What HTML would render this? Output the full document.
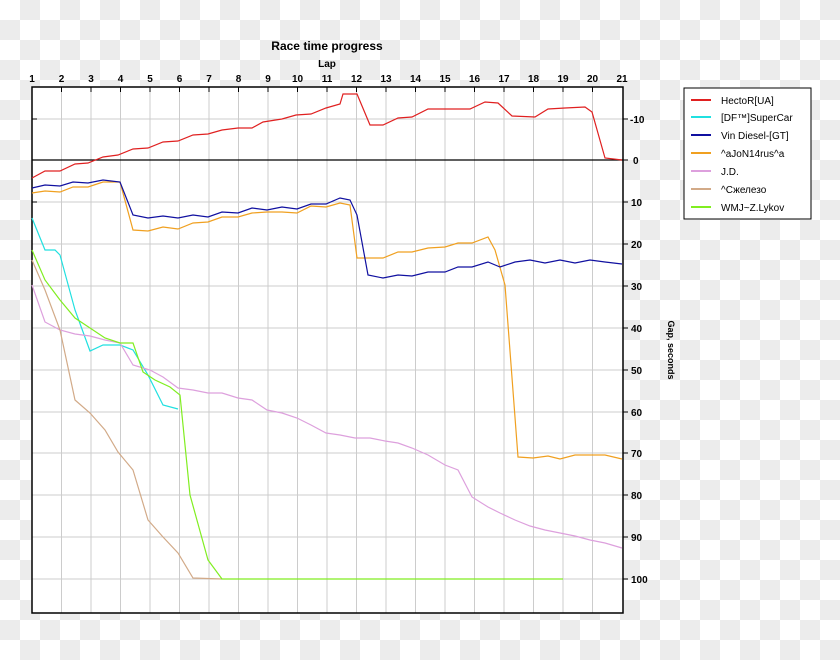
<!DOCTYPE html>
<html><head><meta charset="utf-8"><style>
html,body{margin:0;padding:0}
body{width:840px;height:660px;overflow:hidden;background-color:#fff;
background-image:conic-gradient(#ececec 0 25%,#fff 0 50%,#ececec 0 75%,#fff 0);background-size:40px 40px;}
text{font-family:"Liberation Sans",sans-serif}
</style></head><body>
<svg width="840" height="660" xmlns="http://www.w3.org/2000/svg" style="position:absolute;left:0;top:0">
<rect x="32" y="87" width="591" height="526" fill="#fff"/>
<g stroke="#cccccc" stroke-width="1">
<line x1="61.5" y1="87" x2="61.5" y2="613"/><line x1="91" y1="87" x2="91" y2="613"/><line x1="120.5" y1="87" x2="120.5" y2="613"/><line x1="150" y1="87" x2="150" y2="613"/><line x1="179.5" y1="87" x2="179.5" y2="613"/><line x1="209" y1="87" x2="209" y2="613"/><line x1="238.5" y1="87" x2="238.5" y2="613"/><line x1="268" y1="87" x2="268" y2="613"/><line x1="297.5" y1="87" x2="297.5" y2="613"/><line x1="327" y1="87" x2="327" y2="613"/><line x1="356.5" y1="87" x2="356.5" y2="613"/><line x1="386" y1="87" x2="386" y2="613"/><line x1="415.5" y1="87" x2="415.5" y2="613"/><line x1="445" y1="87" x2="445" y2="613"/><line x1="474.5" y1="87" x2="474.5" y2="613"/><line x1="504" y1="87" x2="504" y2="613"/><line x1="533.5" y1="87" x2="533.5" y2="613"/><line x1="563" y1="87" x2="563" y2="613"/><line x1="592.5" y1="87" x2="592.5" y2="613"/>
<line x1="32" y1="119" x2="623" y2="119"/><line x1="32" y1="202" x2="623" y2="202"/><line x1="32" y1="244" x2="623" y2="244"/><line x1="32" y1="286" x2="623" y2="286"/><line x1="32" y1="328" x2="623" y2="328"/><line x1="32" y1="370" x2="623" y2="370"/><line x1="32" y1="412" x2="623" y2="412"/><line x1="32" y1="453" x2="623" y2="453"/><line x1="32" y1="495" x2="623" y2="495"/><line x1="32" y1="537" x2="623" y2="537"/><line x1="32" y1="579" x2="623" y2="579"/>
</g>
<line x1="32" y1="160" x2="623" y2="160" stroke="#000" stroke-width="1.2"/>
<rect x="32" y="87" width="591" height="526" fill="none" stroke="#000" stroke-width="1.5"/>
<g stroke="#000" stroke-width="1">
<line x1="61.5" y1="87" x2="61.5" y2="92"/><line x1="91" y1="87" x2="91" y2="92"/><line x1="120.5" y1="87" x2="120.5" y2="92"/><line x1="150" y1="87" x2="150" y2="92"/><line x1="179.5" y1="87" x2="179.5" y2="92"/><line x1="209" y1="87" x2="209" y2="92"/><line x1="238.5" y1="87" x2="238.5" y2="92"/><line x1="268" y1="87" x2="268" y2="92"/><line x1="297.5" y1="87" x2="297.5" y2="92"/><line x1="327" y1="87" x2="327" y2="92"/><line x1="356.5" y1="87" x2="356.5" y2="92"/><line x1="386" y1="87" x2="386" y2="92"/><line x1="415.5" y1="87" x2="415.5" y2="92"/><line x1="445" y1="87" x2="445" y2="92"/><line x1="474.5" y1="87" x2="474.5" y2="92"/><line x1="504" y1="87" x2="504" y2="92"/><line x1="533.5" y1="87" x2="533.5" y2="92"/><line x1="563" y1="87" x2="563" y2="92"/><line x1="592.5" y1="87" x2="592.5" y2="92"/>
<line x1="623" y1="119" x2="628" y2="119"/><line x1="623" y1="160" x2="628" y2="160"/><line x1="623" y1="202" x2="628" y2="202"/><line x1="623" y1="244" x2="628" y2="244"/><line x1="623" y1="286" x2="628" y2="286"/><line x1="623" y1="328" x2="628" y2="328"/><line x1="623" y1="370" x2="628" y2="370"/><line x1="623" y1="412" x2="628" y2="412"/><line x1="623" y1="453" x2="628" y2="453"/><line x1="623" y1="495" x2="628" y2="495"/><line x1="623" y1="537" x2="628" y2="537"/><line x1="623" y1="579" x2="628" y2="579"/>
<line x1="32" y1="119" x2="37" y2="119"/><line x1="32" y1="202" x2="37" y2="202"/>
</g>
<g font-size="10" font-weight="bold" text-anchor="middle" fill="#000">
<text x="32" y="82">1</text><text x="61.5" y="82">2</text><text x="91" y="82">3</text><text x="120.5" y="82">4</text><text x="150" y="82">5</text><text x="179.5" y="82">6</text><text x="209" y="82">7</text><text x="238.5" y="82">8</text><text x="268" y="82">9</text><text x="297.5" y="82">10</text><text x="327" y="82">11</text><text x="356.5" y="82">12</text><text x="386" y="82">13</text><text x="415.5" y="82">14</text><text x="445" y="82">15</text><text x="474.5" y="82">16</text><text x="504" y="82">17</text><text x="533.5" y="82">18</text><text x="563" y="82">19</text><text x="592.5" y="82">20</text><text x="622" y="82">21</text>
<text x="327" y="67">Lap</text>
<text x="327" y="50" font-size="12">Race time progress</text>
</g>
<g font-size="10" font-weight="bold" fill="#000">
<text x="630" y="123">-10</text><text x="633" y="164">0</text><text x="631" y="206">10</text><text x="631" y="248">20</text><text x="631" y="290">30</text><text x="631" y="332">40</text><text x="631" y="374">50</text><text x="631" y="416">60</text><text x="631" y="457">70</text><text x="631" y="499">80</text><text x="631" y="541">90</text><text x="631" y="583">100</text>
<text transform="translate(668,350) rotate(90)" text-anchor="middle" font-size="9">Gap, seconds</text>
</g>
<g fill="none" stroke-width="1.2">
<polyline stroke="#e02020" points="32,178 45,171 60,171 75,164 88,163 103,157 118,155 133,149 148,148 163,142 178,141 193,135 208,134 222,130 238,128 252,128 263,122 282,119 296,115 311,114 326,108 340,104 343,94 357,94 370,125 383,125 398,118 412,117 428,109 470,109 485,102 498,103 512,116 535,117 548,109 565,108 585,107 592,112 605,158 622,160"/>
<polyline stroke="#20e0e0" points="32,218 45,250 55,250 60,255 75,310 90,351 103,345 120,345 133,350 148,375 163,405 178,409"/>
<polyline stroke="#dda0dd" points="32,285 45,322 60,330 75,334 90,336 105,340 120,343 133,365 150,370 163,377 178,388 193,390 208,393 222,393 238,398 252,400 267,410 282,413 297,418 311,425 326,433 340,435 355,438 370,438 385,441 398,443 412,448 428,455 445,465 458,470 472,497 488,507 500,513 515,520 530,526 545,530 560,533 575,536 590,540 605,543 622,548"/>
<polyline stroke="#d2aa88" points="32,260 45,290 60,330 75,400 90,413 105,430 118,452 133,470 148,520 163,537 178,553 193,578 222,579"/>
<polyline stroke="#80ee20" points="32,250 45,280 60,300 75,318 90,328 105,338 120,343 133,343 143,372 155,380 170,387 180,395 190,495 208,560 222,579 563,579"/>
<polyline stroke="#f0a020" points="32,193 45,191 60,192 73,187 88,187 103,182 120,182 133,230 148,231 163,227 178,229 193,223 208,222 222,217 238,217 252,213 267,212 282,212 297,213 311,206 326,207 340,203 350,205 357,258 383,258 398,252 412,252 428,248 445,247 458,243 472,243 488,237 495,250 505,285 518,457 533,458 548,456 560,459 575,455 590,455 605,455 622,459"/>
<polyline stroke="#1010a0" points="32,188 45,185 60,186 73,182 88,183 103,180 120,182 133,215 148,218 163,216 178,218 193,215 208,217 222,212 238,213 252,208 267,210 282,207 297,209 311,204 326,204 340,198 350,200 357,215 368,275 383,278 398,275 412,276 428,272 445,272 458,267 472,267 488,262 500,267 515,262 530,260 545,263 560,260 575,263 590,260 605,262 622,264"/>
</g>
<rect x="684" y="88" width="127" height="131" fill="#fff" stroke="#000" stroke-width="1"/>
<g stroke-width="2">
<line x1="691" y1="100" x2="711" y2="100" stroke="#e02020"/>
<line x1="691" y1="117" x2="711" y2="117" stroke="#20e0e0"/>
<line x1="691" y1="135" x2="711" y2="135" stroke="#1010a0"/>
<line x1="691" y1="153" x2="711" y2="153" stroke="#f0a020"/>
<line x1="691" y1="171" x2="711" y2="171" stroke="#dda0dd"/>
<line x1="691" y1="189" x2="711" y2="189" stroke="#d2aa88"/>
<line x1="691" y1="207" x2="711" y2="207" stroke="#80ee20"/>
</g>
<g font-size="10" fill="#000" font-family="'Liberation Sans','DejaVu Sans',sans-serif">
<text x="721" y="104">HectoR[UA]</text>
<text x="721" y="121">[DF™]SuperCar</text>
<text x="721" y="139">Vin Diesel-[GT]</text>
<text x="721" y="157">^aJoN14rus^a</text>
<text x="721" y="175">J.D.</text>
<text x="721" y="193">^Сжелезо</text>
<text x="721" y="211">WMJ~Z.Lykov</text>
</g>
</svg>
</body></html>
